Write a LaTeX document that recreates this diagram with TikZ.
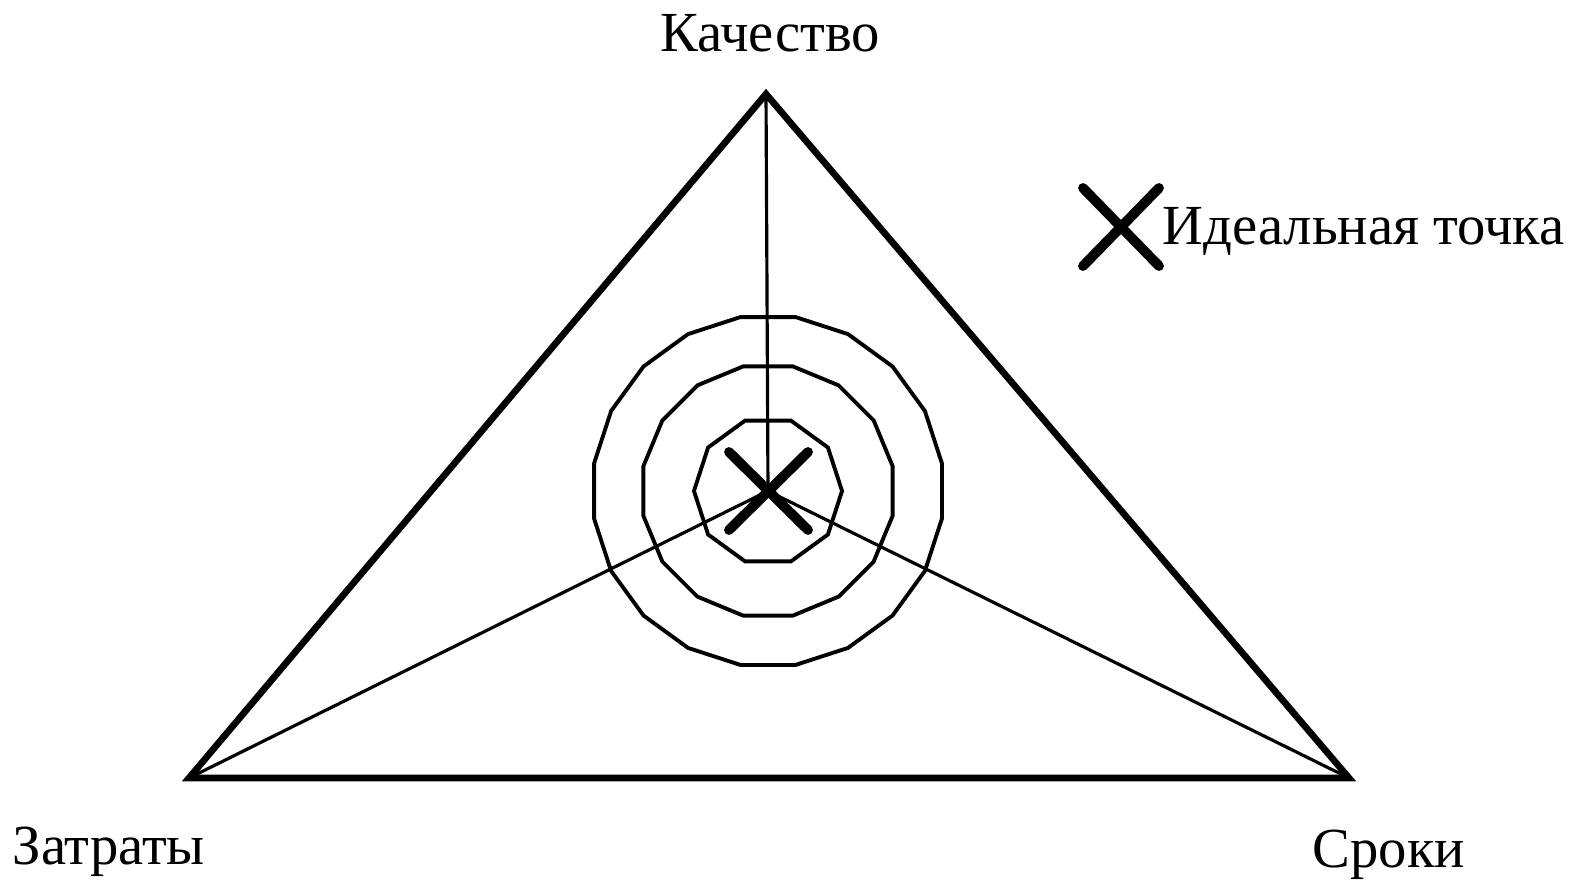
\documentclass[tikz,border=0pt]{standalone}
\usepackage{fontspec}
\setmainfont{Liberation Serif}
\usetikzlibrary{shapes.geometric}
\begin{document}
\begin{tikzpicture}[x=0.01cm,y=-0.01cm,
  edge/.style={line width=1.9pt,line join=miter},
  spoke/.style={line width=0.9pt},
  ring/.style={draw,line width=1.1pt,regular polygon,inner sep=0pt},
  cross/.style={line width=2.8pt,line cap=round},
  lbl/.style={font=\fontsize{16.1}{19}\selectfont,anchor=base,inner sep=0pt}]
\useasboundingbox (0,0) rectangle (1576,882);
\coordinate (T) at (766,94);
\coordinate (L) at (189,778);
\coordinate (R) at (1349,778);
\coordinate (C) at (768,491);
\draw[edge] (T) -- (R) -- (L) -- cycle;
\draw[spoke] (C) -- (T);
\draw[spoke] (C) -- (L);
\draw[spoke] (C) -- (R);
\node[ring,regular polygon sides=10,minimum size=1.48cm] (r1) at (C) {};
\node[ring,regular polygon sides=16,minimum size=2.54cm] (r2) at (C) {};
\node[ring,regular polygon sides=20,minimum size=3.52cm] (r3) at (C) {};
\coordinate (c1) at (729,452);
\coordinate (c2) at (808,530);
\coordinate (c3) at (808,452);
\coordinate (c4) at (729,530);
\draw[cross] (c1) -- (c2);
\draw[cross] (c3) -- (c4);
\coordinate (k1) at (1083,188);
\coordinate (k2) at (1159,266);
\coordinate (k3) at (1159,188);
\coordinate (k4) at (1083,266);
\draw[cross] (k1) -- (k2);
\draw[cross] (k3) -- (k4);
\node[lbl,anchor=base west] (ideal) at (1162,245) {Идеальная точка};
\node[lbl] (kach) at (770,52) {Качество};
\node[lbl,anchor=base west] (zat) at (12,864) {Затраты};
\node[lbl,anchor=base west] (srok) at (1312,867) {Сроки};
\end{tikzpicture}
\end{document}
